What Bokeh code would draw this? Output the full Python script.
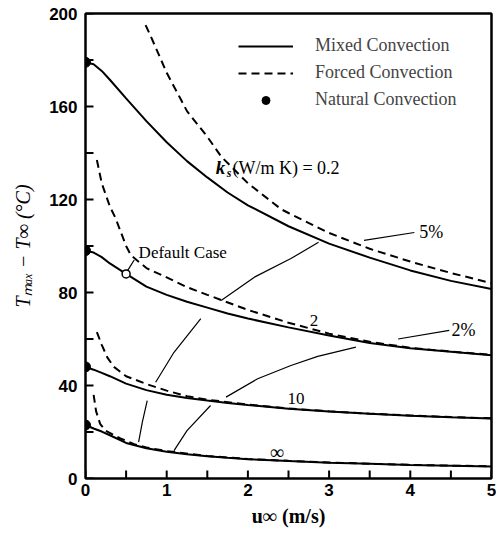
from bokeh.plotting import figure
from bokeh.models import FixedTicker, Label, Legend, LegendItem, LinearAxis
from bokeh.embed import file_html
from bokeh.resources import INLINE

nan = float("nan")

# ---- data ----
u_mixed = [0, 0.1, 0.2, 0.3, 0.5, 0.75, 1, 1.25, 1.5, 1.75, 2, 2.5, 3, 3.5, 4, 4.5, 5]
T_mixed_02 = [179, 178.2, 175.3, 171.5, 163.5, 153.7, 144.6, 136.5, 129.5, 123, 117.5, 108.5, 101, 95, 89.5, 85, 81.5]
T_mixed_2 = [98, 97.2, 95.2, 92.5, 88, 82.5, 79, 76, 73.5, 71, 68.8, 65, 61.5, 58.3, 56, 54.5, 53]
T_mixed_10 = [48, 46.8, 45.4, 44, 40.8, 38, 36, 34.6, 33.5, 32.5, 31.6, 30, 28.8, 27.8, 27, 26.3, 25.8]
T_mixed_inf = [23, 21.5, 20.2, 18.6, 15.3, 13, 11.5, 10.4, 9.6, 8.9, 8.3, 7.5, 6.8, 6.3, 5.8, 5.5, 5.2]

u_forced_02 = [0.74, 0.8, 0.9, 1.0, 1.17, 1.25, 1.5, 1.67, 2, 2.41, 2.5, 3, 3.5, 4, 4.5, 5]
T_forced_02 = [195, 190.5, 182.5, 174.5, 163.3, 158, 147, 138.5, 127, 115.8, 114.2, 105.6, 98.8, 93.3, 88.4, 84]
u_forced_2 = [0.14, 0.2, 0.3, 0.37, 0.5, 0.56, 0.75, 1, 1.25, 1.5, 2, 2.5, 3, 3.5, 4, 4.5, 5]
T_forced_2 = [137, 127, 117, 112, 100, 96, 90.5, 86.5, 82.3, 79, 72.5, 67, 62.3, 58.8, 56.2, 54.6, 53.2]
u_forced_10 = [0.14, 0.2, 0.27, 0.35, 0.5, 0.76, 1, 1.25, 1.5, 2, 2.5, 3, 3.5, 4, 4.5, 5]
T_forced_10 = [63, 57.5, 52, 48, 44, 40.5, 37.8, 35.4, 33.9, 31.8, 30.1, 28.9, 27.9, 27.1, 26.4, 25.9]
u_forced_inf = [0.1, 0.13, 0.18, 0.25, 0.43, 0.6, 0.75, 1, 1.5, 2, 2.5, 3, 3.5, 4, 4.5, 5]
T_forced_inf = [36, 29, 23.5, 20.5, 17.2, 14.8, 13.3, 11.8, 9.7, 8.4, 7.6, 6.9, 6.35, 5.85, 5.55, 5.25]

u_natural = [0, 0, 0, 0]
T_natural = [179, 98, 48, 23]

u_default = [0.5]
T_default = [88]

# 5 % and 2 % deviation lines (gaps where they cross the curves)
u_5pct = [0.654, 0.70, 0.76, nan, 0.864, 1.09, 1.42, nan, 1.67, 2.08, 2.53, 2.87]
T_5pct = [15.6, 24.2, 33.5, nan, 41.4, 54.3, 68.8, nan, 76.6, 86.6, 94.6, 101.6]
u_5pct_leader = [3.43, 4.05]
T_5pct_leader = [102.4, 105.8]
u_2pct = [1.09, 1.25, 1.54, nan, 1.73, 2.12, 2.53, 2.86, 3.33]
T_2pct = [12.0, 20.6, 31.4, nan, 35.0, 42.9, 48.6, 52.5, 56.5]
u_2pct_leader = [3.85, 4.48]
T_2pct_leader = [60.0, 63.7]
u_default_leader = [0.52, 0.6]
T_default_leader = [89.5, 94]

x_ticks = [0, 1, 2, 3, 4, 5]
x_minor = [0.5, 1.5, 2.5, 3.5, 4.5]
y_ticks = [0, 40, 80, 120, 160, 200]
y_minor = [20, 60, 100, 140, 180]

x_title = "u∞ (m/s)"
y_title = "Tₘₐₓ − T∞ (°C)"

SERIF = "Liberation Serif"
W, H = 496, 540
BL, BR, BT, BB = 85, 5, 13, 62
TICK_PX = 8

p = figure(width=W, height=H, x_range=(0, 5), y_range=(0, 200),
           output_backend="svg", toolbar_location=None,
           min_border_left=BL, min_border_right=BR, min_border_top=BT, min_border_bottom=BB)
p.xgrid.visible = False
p.ygrid.visible = False
p.outline_line_color = "black"
p.outline_line_width = 2
p.background_fill_color = "white"
p.border_fill_color = "white"

p.xaxis.ticker = FixedTicker(ticks=x_ticks, minor_ticks=x_minor)
p.yaxis.ticker = FixedTicker(ticks=y_ticks, minor_ticks=y_minor)
for ax in (p.xaxis, p.yaxis):
    ax.axis_line_width = 2
    ax.axis_line_color = "black"
    ax.major_tick_in = 0
    ax.major_tick_out = 0
    ax.minor_tick_in = 0
    ax.minor_tick_out = 0
    ax.major_label_text_font = "Liberation Sans"
    ax.major_label_text_font_style = "bold"
    ax.major_label_text_font_size = "17px"
    ax.major_label_text_color = "black"
    ax.axis_label_text_font = SERIF
    ax.axis_label_text_color = "black"
    ax.axis_label_text_font_size = "20px"
p.xaxis.major_label_standoff = 5
p.yaxis.major_label_standoff = 8
p.xaxis.axis_label = x_title
p.xaxis.axis_label_text_font_style = "bold"
p.xaxis.axis_label_standoff = 6
p.yaxis.axis_label = y_title
p.yaxis.axis_label_text_font_style = "italic"
p.yaxis.axis_label_standoff = 12

# frame box on top and right
for side in ("above", "right"):
    p.add_layout(LinearAxis(ticker=FixedTicker(ticks=[]), axis_line_width=2,
                            axis_line_color="black", major_tick_in=0, major_tick_out=0,
                            minor_tick_in=0, minor_tick_out=0,
                            major_label_text_font_size="0px"), side)

# inward tick marks, from the tick arrays
fw = W - BL - BR
fh = H - BT - BB
ty = TICK_PX * 200 / fh
tx = TICK_PX * 5 / fw
xt = x_ticks + x_minor
yt = y_ticks + y_minor
p.segment(x0=xt, y0=[0] * len(xt), x1=xt, y1=[ty] * len(xt), line_color="black", line_width=2)
p.segment(x0=[0] * len(yt), y0=yt, x1=[tx] * len(yt), y1=yt, line_color="black", line_width=2)

# thin deviation lines
thin = dict(line_color="black", line_width=1.2)
p.line(u_5pct, T_5pct, **thin)
p.line(u_5pct_leader, T_5pct_leader, **thin)
p.line(u_2pct, T_2pct, **thin)
p.line(u_2pct_leader, T_2pct_leader, **thin)
p.line(u_default_leader, T_default_leader, **thin)

# main curves
solid = dict(line_color="black", line_width=2)
dashed = dict(line_color="black", line_width=2, line_dash="8 5")
r_mixed = p.line(u_mixed, T_mixed_02, **solid)
p.line(u_mixed, T_mixed_2, **solid)
p.line(u_mixed, T_mixed_10, **solid)
p.line(u_mixed, T_mixed_inf, **solid)
r_forced = p.line(u_forced_02, T_forced_02, **dashed)
p.line(u_forced_2, T_forced_2, **dashed)
p.line(u_forced_10, T_forced_10, **dashed)
p.line(u_forced_inf, T_forced_inf, **dashed)

r_nat = p.scatter(u_natural, T_natural, size=10, marker="circle",
                  fill_color="black", line_color="black")
p.scatter(u_default, T_default, size=8, marker="circle",
          fill_color="white", line_color="black", line_width=1.5)

legend = Legend(items=[LegendItem(label="Mixed Convection", renderers=[r_mixed]),
                       LegendItem(label="Forced Convection", renderers=[r_forced]),
                       LegendItem(label="Natural Convection", renderers=[r_nat])],
                location=(153, 368), border_line_color=None, background_fill_alpha=0,
                glyph_width=55, glyph_height=20, label_height=20, spacing=6,
                padding=0, margin=0, label_standoff=22,
                label_text_font=SERIF, label_text_font_size="18px")
p.add_layout(legend)


def lab(x, y, text, size="17px", style="normal", align="left"):
    p.add_layout(Label(x=x, y=y, text=text, text_font=SERIF, text_font_size=size,
                       text_font_style=style, text_align=align, text_baseline="middle",
                       text_color="black"))


# curve annotations
lab(1.605, 133.6, "k", size="19px", style="bold italic")
lab(1.74, 131.3, "s", size="12px", style="bold italic")
lab(1.81, 133.6, "(W/m K) = 0.2", size="18px")
lab(2.815, 68, "2", align="center")
lab(2.593, 34.4, "10", align="center")
lab(2.358, 11.3, "∞", size="20px", align="center")
lab(4.11, 106, "5%", size="18px")
lab(4.506, 63.7, "2%", size="18px")
lab(0.654, 97.3, "Default Case", size="17px")

open("out.html", "w").write(file_html(p, INLINE))
